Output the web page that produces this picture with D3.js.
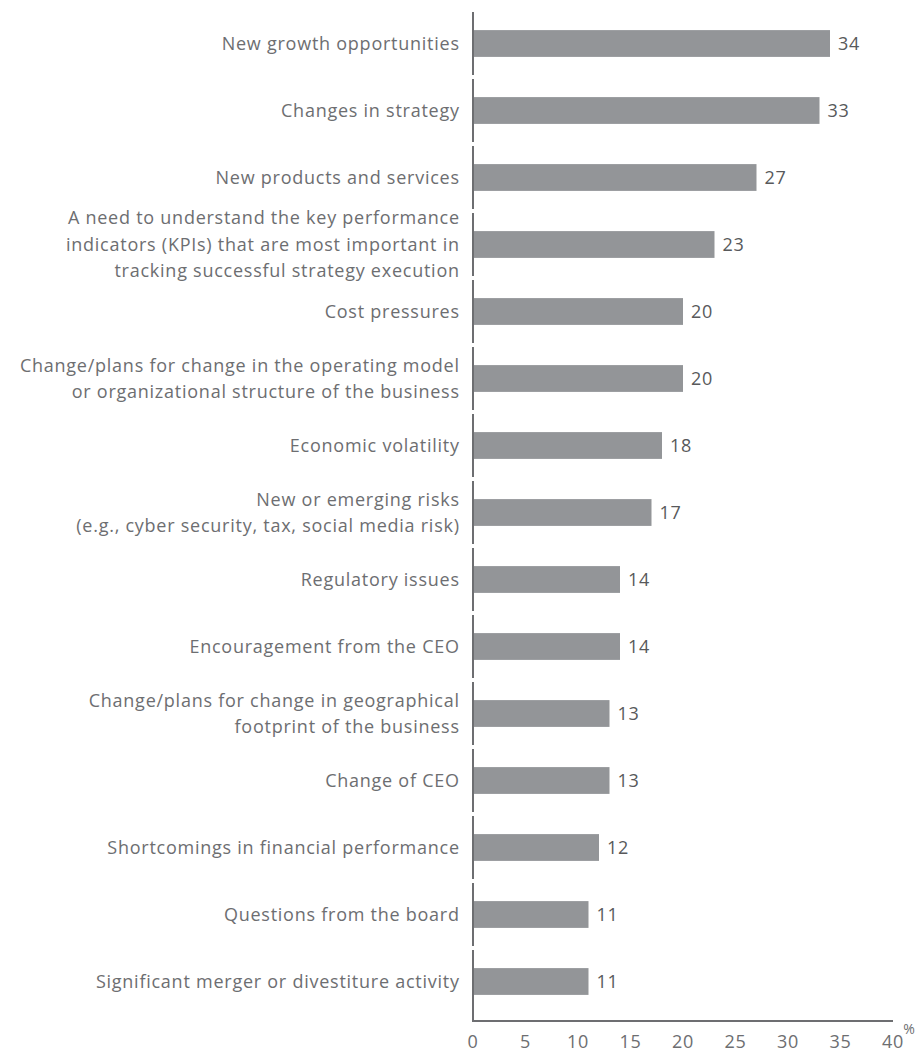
<!DOCTYPE html>
<html>
<head>
<meta charset="utf-8">
<script src="https://cdn.jsdelivr.net/npm/d3@7"></script>
<style>
  body { margin: 0; background: #fff; }
  text { font-family: "Open Sans", sans-serif; }
</style>
</head>
<body>
<div id="chart"></div>
<script>
// categories (each entry is a list of lines) and values in %
const categories = [
    ["New growth opportunities"],
    ["Changes in strategy"],
    ["New products and services"],
    ["A need to understand the key performance", "indicators (KPIs) that are most important in", "tracking successful strategy execution"],
    ["Cost pressures"],
    ["Change/plans for change in the operating model", "or organizational structure of the business"],
    ["Economic volatility"],
    ["New or emerging risks", "(e.g., cyber security, tax, social media risk)"],
    ["Regulatory issues"],
    ["Encouragement from the CEO"],
    ["Change/plans for change in geographical", "footprint of the business"],
    ["Change of CEO"],
    ["Shortcomings in financial performance"],
    ["Questions from the board"],
    ["Significant merger or divestiture activity"]
];
const values = [34, 33, 27, 23, 20, 20, 18, 17, 14, 14, 13, 13, 12, 11, 11];
const ticks = [0, 5, 10, 15, 20, 25, 30, 35, 40];

const width = 917;
const height = 1052;

const svg = d3.select("#chart").append("svg")
    .attr("width", width)
    .attr("height", height);

const x = d3.scaleLinear().domain([0, 40]).range([473, 893]);
const y = d3.scaleBand()
    .domain(d3.range(categories.length))
    .range([10, 1015])
    .paddingInner(0.6)
    .paddingOuter(0.3);

const axisColor = "#6d6e71";
const textColor = "#6d6e71";
const step = y.step();
const fs = 18;
const ls = 0.75;

// vertical axis, broken between categories
svg.append("g")
    .selectAll("line")
    .data(d3.range(categories.length))
    .join("line")
        .attr("x1", x(0)).attr("x2", x(0))
        .attr("y1", i => y(i) + y.bandwidth() / 2 - step / 2 + 2)
        .attr("y2", i => i === categories.length - 1 ? 1022 : y(i) + y.bandwidth() / 2 + step / 2 - 2)
        .attr("stroke", axisColor)
        .attr("stroke-width", 2);

// horizontal axis
svg.append("line")
    .attr("x1", x(0) - 1).attr("x2", x(40))
    .attr("y1", 1021).attr("y2", 1021)
    .attr("stroke", axisColor)
    .attr("stroke-width", 2);

// bars
svg.append("g")
    .selectAll("rect")
    .data(values)
    .join("rect")
        .attr("x", x(0) + 1)
        .attr("y", (d, i) => y(i))
        .attr("width", d => x(d) - x(0) - 1)
        .attr("height", y.bandwidth())
        .attr("fill", "#939598");

// value labels
svg.append("g")
    .selectAll("text")
    .data(values)
    .join("text")
        .attr("x", d => x(d) + 8)
        .attr("y", (d, i) => y(i) + y.bandwidth() / 2)
        .attr("dy", "0.36em")
        .attr("font-size", fs)
        .attr("letter-spacing", ls)
        .attr("fill", "#58595b")
        .text(d => d);

// category labels
const lineH = 26.5;
const labels = svg.append("g")
    .selectAll("text")
    .data(categories)
    .join("text")
        .attr("text-anchor", "end")
        .attr("font-size", fs)
        .attr("letter-spacing", ls)
        .attr("fill", textColor);

labels.each(function(lines, i) {
    const cy = y(i) + y.bandwidth() / 2;
    const top = cy - (lines.length - 1) * lineH / 2;
    d3.select(this).selectAll("tspan")
        .data(lines)
        .join("tspan")
            .attr("x", 459 + ls)
            .attr("y", (l, j) => top + j * lineH)
            .attr("dy", "0.36em")
            .text(l => l);
});

// tick labels
svg.append("g")
    .selectAll("text")
    .data(ticks)
    .join("text")
        .attr("x", d => x(d))
        .attr("y", 1048)
        .attr("text-anchor", "middle")
        .attr("font-size", fs)
        .attr("letter-spacing", ls)
        .attr("fill", textColor)
        .text(d => d);

svg.append("text")
    .attr("x", 909)
    .attr("y", 1034)
    .attr("text-anchor", "middle")
    .attr("font-size", 14)
    .attr("fill", textColor)
    .text("%");
</script>
</body>
</html>
